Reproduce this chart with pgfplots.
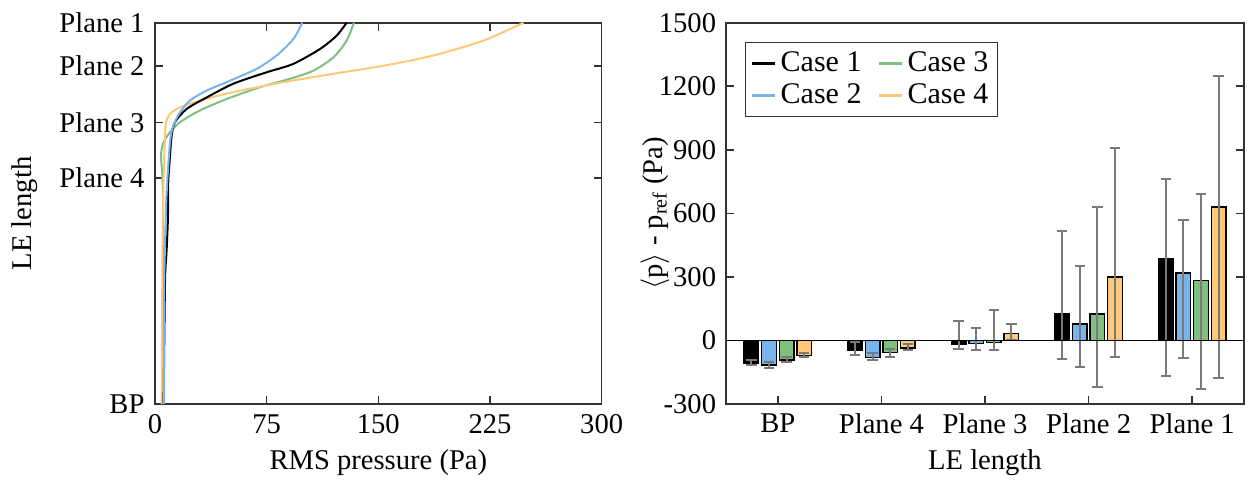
\documentclass[border=0pt]{standalone}
\usepackage{fontspec}
\setmainfont{Liberation Serif}
\usepackage{pgfplots}
\pgfplotsset{compat=1.18}
\definecolor{cblue}{HTML}{78B4EB}
\definecolor{cgreen}{HTML}{7FC080}
\definecolor{corange}{HTML}{FFC878}
\definecolor{axgray}{HTML}{333333}
\definecolor{errgray}{HTML}{7A7A7A}
\begin{document}
{\fontsize{14.3}{17}\selectfont
\begin{tikzpicture}
\useasboundingbox (-77.5pt,-42.5pt) rectangle (549pt,202pt);
\pgfplotsset{
  every axis/.append style={
    scale only axis,
    axis line style={draw=axgray, line width=0.8pt},
    tick style={draw=axgray, line width=0.8pt},
    major tick length=4pt,
    tick align=inside,
    /pgf/number format/assume math mode=true,
    /pgf/number format/1000 sep={},
  }
}
% ---------------- Left panel ----------------
\begin{axis}[
  at={(0pt,0pt)}, anchor=south west,
  width=223.35pt, height=190.65pt,
  xmin=0, xmax=300, ymin=0, ymax=1,
  xtick={0,75,150,225,300},
  ytick={0,0.593,0.738,0.886,1},
  yticklabels={BP, Plane 4, Plane 3, Plane 2, Plane 1},
  xlabel={RMS pressure (Pa)},
  ylabel={LE length},
  xlabel style={yshift=2pt},
  ylabel style={yshift=1pt},
  line width=1pt,
]
\addplot[cgreen, smooth, tension=0.45] coordinates {
 (5.2,0) (5.4,0.272) (5.4,0.534) (4.8,0.608) (4.0,0.652) (5.6,0.685) (10.1,0.713)
 (16.8,0.739) (30.2,0.770) (48.2,0.800) (70.5,0.831) (90.7,0.853) (106.3,0.874)
 (119.8,0.909) (128.7,0.953) (133.6,1)};
\addplot[corange, smooth, tension=0.45] coordinates {
 (4.5,0) (5.1,0.447) (6.0,0.626) (6.7,0.696) (7.4,0.739) (10.1,0.761) (16.8,0.778)
 (30.2,0.796) (52.6,0.818) (86.2,0.844) (119.7,0.866) (153.3,0.887) (186.9,0.914)
 (220.5,0.953) (247.4,1)};
\addplot[black, smooth, tension=0.45] coordinates {
 (5.8,0) (6.2,0.15) (6.8,0.333) (7.8,0.403) (8.7,0.49) (8.9,0.582) (10.1,0.652)
 (11.2,0.704) (13.4,0.739) (21.3,0.774) (34.7,0.804) (52.6,0.840) (75,0.870)
 (92.9,0.892) (110.8,0.931) (122,0.966) (128.7,1)};
\addplot[cblue, smooth, tension=0.45] coordinates {
 (6.2,0) (6.0,0.272) (7.6,0.534) (10.1,0.687) (12.3,0.730) (16.8,0.765) (23.5,0.796)
 (34.7,0.822) (50.4,0.848) (68.3,0.879) (81.7,0.914) (92.9,0.957) (98.9,1)};
\end{axis}
% ---------------- Right panel ----------------
\begin{axis}[
  at={(285.5pt,0pt)}, anchor=south west,
  width=259pt, height=190.65pt,
  xmin=-0.5, xmax=4.5, ymin=-300, ymax=1500,
  xtick={0,1,2,3,4},
  xticklabels={BP, Plane 4, Plane 3, Plane 2, Plane 1},
  xtick pos=left,
  ytick={-300,0,300,600,900,1200,1500},
  xlabel={LE length},
  ylabel={$\langle$p$\rangle$ - p\textsubscript{ref} (Pa)},
  xlabel style={yshift=2pt},
  ylabel style={yshift=-15pt},
  legend columns=2,
  transpose legend,
  legend style={at={(0.037,0.950)}, anchor=north west, draw=axgray, line width=0.6pt,
    font=\fontsize{15}{17}\selectfont, inner sep=2.5pt,
    /tikz/every even column/.append style={column sep=6pt}},
  legend image code/.code={\draw[#1] (0cm,0cm) -- (0.4cm,0cm);},
  error bars/y dir=both, error bars/y explicit,
  error bars/error bar style={draw=errgray, line width=1pt},
  error bars/error mark options={draw=errgray, line width=1pt, mark size=2.6pt, rotate=90},
]
\addlegendimage{black, line width=1.6pt}
\addlegendimage{cblue, line width=1.6pt}
\addlegendimage{cgreen, line width=1.6pt}
\addlegendimage{corange, line width=1.6pt}
\legend{Case 1, Case 2, Case 3, Case 4}
\addplot[forget plot, ybar, bar width=0.14, bar shift=0, fill=black, draw=black, line width=0.7pt]
 coordinates {
 (-0.255,-106) += (0,13) -= (0,12)
 (0.745,-47) += (0,38) -= (0,24)
 (1.745,-16) += (0,106) -= (0,25)
 (2.745,125) += (0,390) -= (0,213)
 (3.745,388) += (0,376) -= (0,555)};
\addplot[forget plot, ybar, bar width=0.14, bar shift=0, fill=cblue, draw=black, line width=0.7pt]
 coordinates {
 (-0.085,-115) += (0,14) -= (0,13)
 (0.915,-80) += (0,20) -= (0,12)
 (1.915,-13) += (0,71) -= (0,34)
 (2.915,77) += (0,276) -= (0,200)
 (3.915,318) += (0,249) -= (0,402)};
\addplot[forget plot, ybar, bar width=0.14, bar shift=0, fill=cgreen, draw=black, line width=0.7pt]
 coordinates {
 (0.085,-92) += (0,13) -= (0,12)
 (1.085,-57) += (0,19) -= (0,22)
 (2.085,-9) += (0,154) -= (0,35)
 (3.085,125) += (0,504) -= (0,347)
 (4.085,284) += (0,409) -= (0,514)};
\addplot[forget plot, ybar, bar width=0.14, bar shift=0, fill=corange, draw=black, line width=0.7pt]
 coordinates {
 (0.255,-71) += (0,14) -= (0,8)
 (1.255,-36) += (0,17) -= (0,10)
 (2.255,33) += (0,45) -= (0,29)
 (3.255,300) += (0,608) -= (0,376)
 (4.255,630) += (0,618) -= (0,808)};
\addplot[forget plot, black, line width=0.9pt] coordinates {(-0.5,0) (4.5,0)};
\end{axis}
\end{tikzpicture}}
\end{document}
